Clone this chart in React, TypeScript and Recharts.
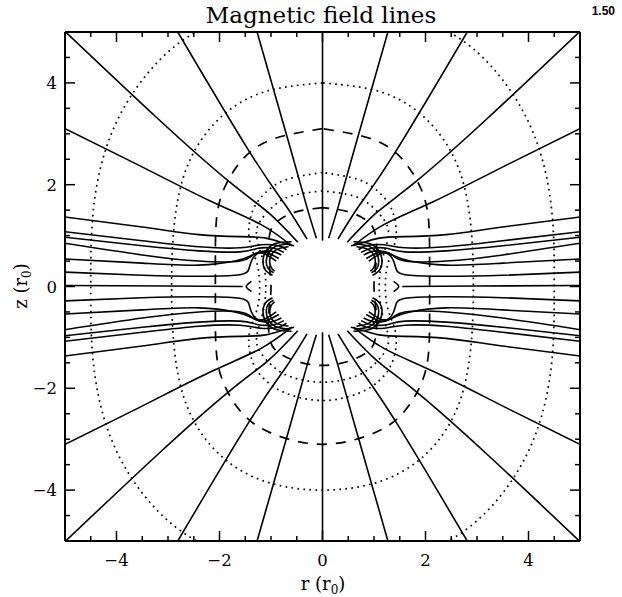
import React from 'react';
import { ComposedChart, Line, Area, XAxis, YAxis } from 'recharts';

type P = [number, number];

// Axis ticks
const TICKS = [-4.5, -4, -3.5, -3, -2.5, -2, -1.5, -1, -0.5, 0, 0.5, 1, 1.5, 2, 2.5, 3, 3.5, 4, 4.5];
const MAJOR_TICKS = [-4, -2, 0, 2, 4];

// Open field lines, upper-left quadrant, from the stellar surface outward
const POLAR_LINE: P[] = [[0, 0.9], [0, 5.3]];
const OPEN_LINES: P[][] = [
  [[-0.12, 0.95], [-0.3, 1.55], [-0.62, 2.7], [-1.27, 5.0], [-1.4, 5.5]],
  [[-0.3, 0.93], [-0.72, 1.6], [-1.45, 2.7], [-2.81, 5.0], [-3.1, 5.5]],
  [[-0.48, 0.87], [-1.05, 1.45], [-1.8, 2.05], [-3.2, 3.3], [-5.3, 5.3]],
  [[-0.6, 0.8], [-1.2, 1.22], [-2.2, 1.69], [-3.6, 2.4], [-5.3, 3.25]],
];

// Field lines bundled toward the equator, upper-left quadrant, from the left edge to the star
const BUNDLE_LINES: P[][] = [
  [[-5.2, 1.39], [-3.5, 1.17], [-2.4, 1.02], [-1.6, 0.98], [-1.1, 0.95], [-0.75, 0.85], [-0.55, 0.8]],
  [[-5.2, 1.1], [-3.5, 0.9], [-2.4, 0.78], [-1.6, 0.76], [-1.2, 0.82], [-0.85, 0.8], [-0.7, 0.72]],
  [[-5.2, 0.99], [-3.5, 0.8], [-2.4, 0.7], [-1.6, 0.68], [-1.25, 0.75], [-0.95, 0.75], [-0.75, 0.67]],
  [[-5.2, 0.88], [-3.5, 0.62], [-2.4, 0.5], [-1.6, 0.5], [-1.35, 0.62], [-1.05, 0.7], [-0.8, 0.62]],
  [[-5.2, 0.55], [-3.5, 0.46], [-2.4, 0.42], [-1.7, 0.5], [-1.4, 0.6], [-1.15, 0.68], [-0.85, 0.55]],
  [[-5.2, 0.29], [-3.5, 0.22], [-2.4, 0.2], [-1.7, 0.22], [-1.45, 0.3], [-1.38, 0.5], [-1.2, 0.66], [-0.9, 0.5]],
];

// Equatorial line and the cusp of the closed region, left side
const EQUATOR_LINE: P[] = [[-5.2, 0.02], [-3.0, 0.01], [-1.55, 0]];
const CUSP: P[] = [[-1.38, 0.1], [-1.48, 0], [-1.38, -0.1]];

// Closed loops at the stellar shoulder, upper-left quadrant
const CLOSED_LOOPS: P[][] = [
  [[-0.66, 0.78], [-0.9, 0.72], [-1.02, 0.55], [-1.0, 0.38], [-0.93, 0.3]],
  [[-0.62, 0.84], [-0.92, 0.78], [-1.08, 0.58], [-1.06, 0.36], [-0.95, 0.27]],
  [[-0.6, 0.88], [-0.95, 0.83], [-1.14, 0.6], [-1.12, 0.34], [-0.97, 0.22]],
];

// Critical surfaces, upper-left quadrant from the pole down to the equator
const SURFACE_OUTER_DOTTED: P[] = [[0, 5.5], [-2.0, 5.2], [-3.3, 4.3], [-4.1, 3.0], [-4.45, 1.5], [-4.5, 0]];
const SURFACE_MID_DOTTED: P[] = [[0, 4.0], [-1.2, 3.8], [-2.1, 3.2], [-2.65, 2.3], [-2.88, 1.2], [-2.93, 0]];
const SURFACE_DASHED: P[] = [[0, 3.1], [-0.95, 2.9], [-1.55, 2.5], [-1.92, 1.9], [-2.06, 1.3], [-2.08, 0.6], [-2.08, 0]];
const SURFACE_INNER_DOTTED_A: P[] = [[0, 2.24], [-0.7, 2.1], [-1.1, 1.85], [-1.35, 1.5], [-1.43, 1.0], [-1.32, 0.6], [-1.24, 0.3], [-1.22, 0]];
const SURFACE_INNER_DOTTED_B: P[] = [[0, 1.88], [-0.6, 1.78], [-0.95, 1.58], [-1.2, 1.3], [-1.28, 1.0], [-1.18, 0.6], [-1.12, 0.3], [-1.1, 0]];
const SURFACE_INNER_DASHED: P[] = [[0, 1.55], [-0.5, 1.47], [-0.85, 1.3], [-1.02, 1.05], [-1.05, 0.6], [-1.02, 0.3], [-1.0, 0]];

const STAR_RADIUS = 1;

const fx = (pts: P[]): P[] => pts.map(([x, z]) => [-x, z] as P);
const fz = (pts: P[]): P[] => pts.map(([x, z]) => [x, -z] as P);
const fourfold = (pts: P[]): P[][] => [pts, fx(pts), fz(pts), fx(fz(pts))];
const closedFromQuadrant = (q: P[]): P[] => {
  const ll = fz(q).reverse().slice(1);
  const lr = fx(fz(q)).slice(1);
  const ur = fx(q).reverse().slice(1);
  return [...q, ...ll, ...lr, ...ur];
};
const rows = (pts: P[]) => pts.map(([x, z]) => ({ x, z }));

const solidPaths: P[][] = [
  POLAR_LINE,
  fz(POLAR_LINE),
  ...OPEN_LINES.flatMap(fourfold),
  ...BUNDLE_LINES.flatMap(fourfold),
  EQUATOR_LINE,
  fx(EQUATOR_LINE),
  CUSP,
  fx(CUSP),
  ...CLOSED_LOOPS.flatMap(fourfold),
];
const dottedPaths: P[][] = [SURFACE_OUTER_DOTTED, SURFACE_MID_DOTTED, SURFACE_INNER_DOTTED_A, SURFACE_INNER_DOTTED_B].map(closedFromQuadrant);
const dashedPaths: P[][] = [SURFACE_DASHED, SURFACE_INNER_DASHED].map(closedFromQuadrant);

// White stellar disk as a range band between the lower and upper half of the circle
const starBand = Array.from({ length: 121 }, (_, i) => {
  const t = Math.PI - (i * Math.PI) / 120;
  const h = STAR_RADIUS * Math.sin(t);
  return { x: STAR_RADIUS * Math.cos(t), band: [-h, h] };
});

const FONT = '"DejaVu Serif", serif';
const fmt = (v: number) => (v < 0 ? `\u2212${-v}` : `${v}`);
const isMajor = (v: number) => MAJOR_TICKS.includes(v);

const BottomTick = (p: any) => {
  const v = p.payload.value;
  const len = isMajor(v) ? 10 : 5;
  return (
    <g>
      <line x1={p.x} y1={p.y} x2={p.x} y2={p.y - len} stroke="#000" strokeWidth={1.5} />
      {isMajor(v) && (
        <text x={p.x} y={p.y + 25} textAnchor="middle" fontFamily={FONT} fontSize={16.5} fill="#000">{fmt(v)}</text>
      )}
    </g>
  );
};
const TopTick = (p: any) => {
  const v = p.payload.value;
  const len = isMajor(v) ? 10 : 5;
  return <line x1={p.x} y1={p.y} x2={p.x} y2={p.y + len} stroke="#000" strokeWidth={1.5} />;
};
const LeftTick = (p: any) => {
  const v = p.payload.value;
  const len = isMajor(v) ? 10 : 5;
  return (
    <g>
      <line x1={p.x} y1={p.y} x2={p.x + len} y2={p.y} stroke="#000" strokeWidth={1.5} />
      {isMajor(v) && (
        <text x={p.x - 8} y={p.y + 6} textAnchor="end" fontFamily={FONT} fontSize={16.5} fill="#000">{fmt(v)}</text>
      )}
    </g>
  );
};
const RightTick = (p: any) => {
  const v = p.payload.value;
  const len = isMajor(v) ? 10 : 5;
  return <line x1={p.x} y1={p.y} x2={p.x - len} y2={p.y} stroke="#000" strokeWidth={1.5} />;
};

const FRAME = { stroke: '#000', strokeWidth: 2 };

export default function App() {
  return (
    <div style={{ position: 'absolute', left: 0, top: 0, width: 622, height: 597, background: '#fff' }}>
      <ComposedChart width={622} height={597} margin={{ top: 22, right: 32, bottom: 26, left: 25 }}>
        <XAxis xAxisId={0} dataKey="x" type="number" domain={[-5, 5]} allowDataOverflow ticks={TICKS} interval={0}
          height={30} tickSize={0} tickMargin={0} tickLine={false} tick={BottomTick} axisLine={FRAME} />
        <XAxis xAxisId="top" orientation="top" dataKey="x" type="number" domain={[-5, 5]} allowDataOverflow ticks={TICKS} interval={0}
          height={10} tickSize={0} tickMargin={0} tickLine={false} tick={TopTick} axisLine={FRAME} />
        <YAxis yAxisId={0} dataKey="z" type="number" domain={[-5, 5]} allowDataOverflow ticks={TICKS} interval={0}
          width={40} tickSize={0} tickMargin={0} tickLine={false} tick={LeftTick} axisLine={FRAME} />
        <YAxis yAxisId="right" orientation="right" dataKey="z" type="number" domain={[-5, 5]} allowDataOverflow ticks={TICKS} interval={0}
          width={10} tickSize={0} tickMargin={0} tickLine={false} tick={RightTick} axisLine={FRAME} />
        {dottedPaths.map((pts, i) => (
          <Line key={`dot${i}`} data={rows(pts)} dataKey="z" type="natural" stroke="#000" strokeWidth={1.7}
            strokeDasharray="1.7 4.3" dot={false} activeDot={false} isAnimationActive={false} />
        ))}
        {dashedPaths.map((pts, i) => (
          <Line key={`dash${i}`} data={rows(pts)} dataKey="z" type="natural" stroke="#000" strokeWidth={1.7}
            strokeDasharray="10 9" dot={false} activeDot={false} isAnimationActive={false} />
        ))}
        {solidPaths.map((pts, i) => (
          <Line key={`fl${i}`} data={rows(pts)} dataKey="z" type="natural" stroke="#000" strokeWidth={1.6}
            dot={false} activeDot={false} isAnimationActive={false} />
        ))}
        <Area data={starBand} dataKey="band" type="linear" fill="#fff" fillOpacity={1} stroke="none"
          isAnimationActive={false} dot={false} activeDot={false} />
      </ComposedChart>
      <svg width={622} height={597} style={{ position: 'absolute', left: 0, top: 0, pointerEvents: 'none' }}>
        <text x={321} y={23} textAnchor="middle" fontFamily={FONT} fontSize={23} fill="#000">Magnetic field lines</text>
        <text x={615} y={15} textAnchor="end" fontFamily='"Liberation Sans", Arial, sans-serif' fontWeight="bold" fontSize={12} fill="#000">1.50</text>
        <text x={323} y={590} textAnchor="middle" fontFamily={FONT} fontSize={18} fill="#000">
          r (r<tspan dy={4} fontSize={12}>0</tspan><tspan dy={-4}>)</tspan>
        </text>
        <text transform="translate(27,286) rotate(-90)" textAnchor="middle" fontFamily={FONT} fontSize={18} fill="#000">
          z (r<tspan dy={4} fontSize={12}>0</tspan><tspan dy={-4}>)</tspan>
        </text>
      </svg>
    </div>
  );
}
